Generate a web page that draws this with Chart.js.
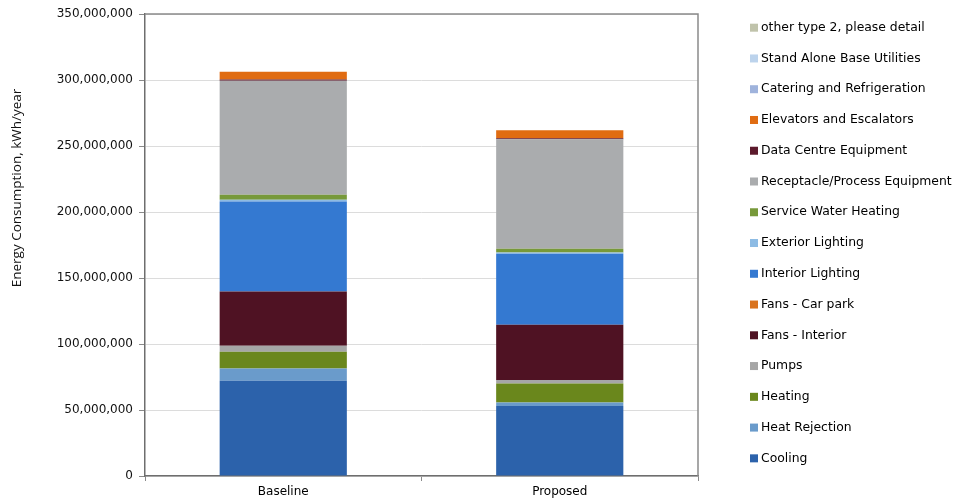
<!DOCTYPE html>
<html>
<head>
<meta charset="utf-8">
<script src="https://cdn.jsdelivr.net/npm/chart.js@4.4.1/dist/chart.umd.min.js"></script>
<style>
  html, body { margin: 0; padding: 0; background: #fff; }
  #wrap { width: 958px; height: 504px; }
</style>
</head>
<body>
<div id="wrap"><canvas id="energyChart" width="958" height="504"></canvas></div>
<script>
// categories on the x axis
const scenarios = ['Baseline', 'Proposed'];

// end uses, bottom of the stack first (kWh/year)
const cooling          = [72100000, 53100000];
const heatRejection    = [9300000, 2500000];
const heating          = [12700000, 14500000];
const pumps            = [4600000, 2600000];
const fansInterior     = [41000000, 41800000];
const fansCarPark      = [0, 0];
const interiorLighting = [68300000, 53800000];
const exteriorLighting = [1300000, 1000000];
const serviceWater     = [3800000, 2800000];
const receptacle       = [86300000, 83000000];
const dataCentre       = [900000, 800000];
const elevators        = [5900000, 6000000];
const catering         = [0, 0];
const standAlone       = [0, 0];
const otherType2       = [0, 0];

const yTicks = [0, 50000000, 100000000, 150000000, 200000000, 250000000, 300000000, 350000000];

const series = [
    ['Cooling', cooling, '#2c62ab'],
    ['Heat Rejection', heatRejection, '#6a9bcb'],
    ['Heating', heating, '#6a871c'],
    ['Pumps', pumps, '#a6a6a6'],
    ['Fans - Interior', fansInterior, '#4f1223'],
    ['Fans - Car park', fansCarPark, '#d9731f'],
    ['Interior Lighting', interiorLighting, '#3479d1'],
    ['Exterior Lighting', exteriorLighting, '#8dbbe4'],
    ['Service Water Heating', serviceWater, '#77993a'],
    ['Receptacle/Process Equipment', receptacle, '#aaacae'],
    ['Data Centre Equipment', dataCentre, '#5c1a2c'],
    ['Elevators and Escalators', elevators, '#e06c12'],
    ['Catering and Refrigeration', catering, '#9fb3dc'],
    ['Stand Alone Base Utilities', standAlone, '#bcd3ec'],
    ['other type 2, please detail', otherType2, '#c0c3ab']
];

const FONT = '"DejaVu Sans", Verdana, sans-serif';

/**
 * Draws the frame, the y axis title and the legend on the right.
 */
const extras = {
    id: 'extras',
    afterDraw(chart) {
        const ctx = chart.ctx;
        const a = chart.chartArea;
        ctx.save();

        // top and right edge of the plot frame
        ctx.strokeStyle = '#8a8a8a';
        ctx.lineWidth = 1.5;
        ctx.beginPath();
        ctx.moveTo(a.left, a.top);
        ctx.lineTo(a.right, a.top);
        ctx.lineTo(a.right, a.bottom);
        ctx.stroke();

        // y axis title
        ctx.translate(17, 188);
        ctx.rotate(-Math.PI / 2);
        ctx.fillStyle = '#111';
        ctx.font = '13.5px "Open Sans", sans-serif';
        ctx.textAlign = 'center';
        ctx.textBaseline = 'middle';
        ctx.fillText('Energy Consumption, kWh/year', 0, 0);
        ctx.restore();

        // legend, top item = last dataset
        ctx.save();
        ctx.font = '12.4px ' + FONT;
        ctx.textBaseline = 'middle';
        ctx.textAlign = 'left';
        const ds = chart.data.datasets;
        for (let k = 0; k < ds.length; k++) {
            const d = ds[ds.length - 1 - k];
            const y = 27.7 + k * 30.76;
            ctx.fillStyle = d.backgroundColor;
            ctx.fillRect(750, y - 4, 8, 8);
            ctx.fillStyle = '#000';
            ctx.fillText(d.label, 761, y);
        }
        ctx.restore();
    }
};

new Chart(document.getElementById('energyChart'), {
    type: 'bar',
    data: {
        labels: scenarios,
        datasets: series.map(([label, values, color]) => ({
            label: label,
            data: values,
            backgroundColor: color,
            borderWidth: 0,
            categoryPercentage: 1,
            barPercentage: 0.46
        }))
    },
    options: {
        responsive: false,
        animation: false,
        layout: { padding: { top: 14, right: 260, left: 0, bottom: 0 } },
        plugins: {
            legend: { display: false },
            tooltip: { enabled: false }
        },
        scales: {
            x: {
                stacked: true,
                afterFit(scale) { scale.height = 28; },
                grid: {
                    drawOnChartArea: false,
                    offset: true,
                    tickLength: 5,
                    tickColor: '#8a8a8a'
                },
                border: { color: '#6e6e6e', width: 1.5 },
                ticks: { font: { family: FONT, size: 12 }, color: '#000', padding: 4 }
            },
            y: {
                stacked: true,
                min: 0,
                max: 350000000,
                afterFit(scale) { scale.width = 145; },
                afterBuildTicks(scale) { scale.ticks = yTicks.map(v => ({ value: v })); },
                grid: {
                    color: '#dcdcdc',
                    tickColor: '#8a8a8a',
                    tickLength: 6
                },
                border: { color: '#6e6e6e', width: 1.5 },
                ticks: {
                    font: { family: FONT, size: 12 },
                    color: '#111',
                    padding: 6,
                    callback: v => v.toLocaleString('en-US')
                }
            }
        }
    },
    plugins: [extras]
});
</script>
</body>
</html>
